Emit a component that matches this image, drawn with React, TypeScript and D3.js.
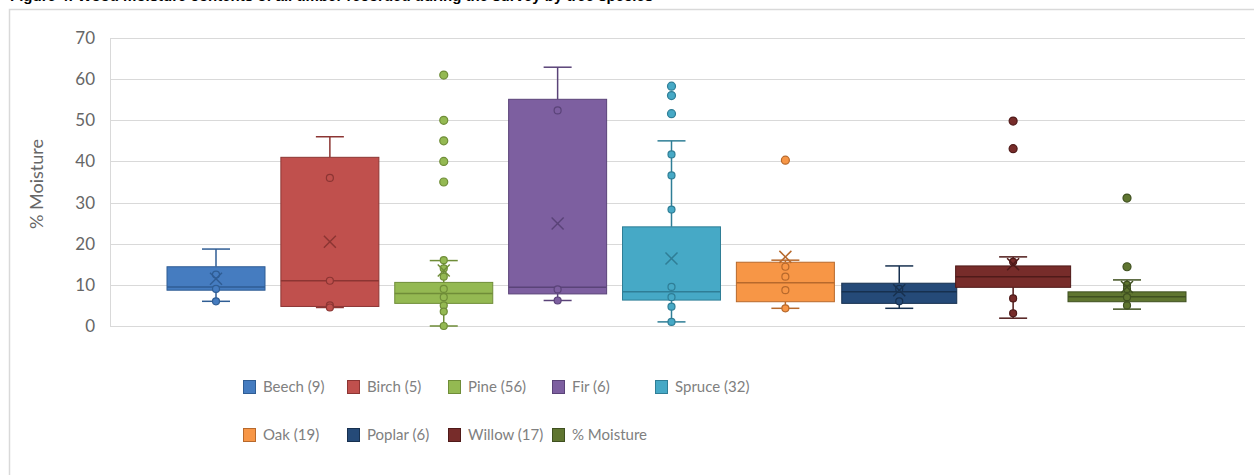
import React from "react";
import * as d3 from "d3";

const series = ["Beech (9)", "Birch (5)", "Pine (56)", "Fir (6)", "Spruce (32)", "Oak (19)", "Poplar (6)", "Willow (17)", "% Moisture"];
const mins = [6, 4.5, 0, 6.2, 1, 4.3, 4.3, 1.9, 4.1];
const q1s = [8.7, 4.75, 5.5, 7.8, 6.3, 5.9, 5.5, 9.4, 5.9];
const medians = [9.5, 11, 7.9, 9.4, 8.3, 10.5, 8.3, 12, 7.1];
const q3s = [14.4, 41, 10.6, 55.1, 24.1, 15.5, 10.4, 14.6, 8.3];
const maxs = [18.7, 46, 15.9, 62.9, 45, 16, 14.6, 16.8, 11.2];
const means = [11.5, 20.5, 13.5, 24.9, 16.4, 16.8, 8.7, 15, 9.5];
const innerPoints = [
  [12.5, 9, 6],
  [36, 11, 5, 4.5],
  [16, 14, 12, 9, 7, 5, 3.5, 0],
  [52.4, 8.9, 6.2],
  [41.7, 36.6, 28.3, 9.5, 7, 4.7, 1],
  [14.4, 12, 8.7, 4.3],
  [9, 6],
  [15.6, 6.7, 3.1],
  [10, 9, 7, 5],
];
const outliers = [[], [], [61, 50, 45, 40, 35], [], [58.3, 56, 51.6], [40.3], [], [49.8, 43.1], [31.1, 14.4]];
const yTicks = [0, 10, 20, 30, 40, 50, 60, 70];

const fills = ["#457cc0", "#c0504d", "#94b952", "#7d5fa0", "#46a9c6", "#f79646", "#254a78", "#772c2a", "#5f7530"];
const strokes = ["#2f5d94", "#8c3533", "#6f8d38", "#5a4378", "#2f7e96", "#b7692c", "#17304f", "#4f1a19", "#3f5020"];
const boxWidths = [98, 98, 98, 98, 98, 98, 115, 115, 118];

export default function App() {
  const y = d3.scaleLinear().domain([0, 70]).range([326, 38]);
  const x = d3.scalePoint<string>().domain(series).range([216, 1127]);
  const font = "Lato, 'Open Sans', sans-serif";
  const cap = 14;

  const legendCols = [243, 347, 448, 552, 655];
  const legendRows = [387, 435];

  return (
    <div style={{ position: "fixed", left: 0, top: 0 }}>
      <svg width={1254} height={475} style={{ display: "block", background: "#fff" }}>
        <text x={10} y={1} fontFamily="'Liberation Sans', Arial, sans-serif" fontWeight="bold" fontSize={15} fill="#000">
          Figure 4: Wood moisture contents of all timber recorded during the survey by tree species
        </text>
        <rect x={9.5} y={9.5} width={1300} height={500} fill="#fff" stroke="#d9d9d9" strokeWidth={1.5} />

        {yTicks.map((t) => (
          <g key={t}>
            <line x1={110} x2={1245} y1={Math.round(y(t)) + 0.5} y2={Math.round(y(t)) + 0.5} stroke="#d9d9d9" strokeWidth={1} />
            <text x={95} y={y(t)} dy="0.35em" textAnchor="end" fontFamily={font} fontSize={17} fill="#666">
              {t}
            </text>
          </g>
        ))}
        <line x1={110.5} x2={110.5} y1={y(70)} y2={y(0)} stroke="#d9d9d9" />
        <text
          transform={`translate(43,${(y(0) + y(70)) / 2 + 2}) rotate(-90)`}
          textAnchor="middle"
          fontFamily={font}
          fontSize={18}
          fill="#666"
        >
          % Moisture
        </text>

        {series.map((s, i) => {
          const cx = x(s) as number;
          const w = boxWidths[i];
          const col = fills[i];
          const dk = strokes[i];
          return (
            <g key={s}>
              <line x1={cx} x2={cx} y1={y(q3s[i])} y2={y(maxs[i])} stroke={dk} strokeWidth={1.5} />
              <line x1={cx} x2={cx} y1={y(q1s[i])} y2={y(mins[i])} stroke={dk} strokeWidth={1.5} />
              <line x1={cx - cap} x2={cx + cap} y1={y(maxs[i])} y2={y(maxs[i])} stroke={dk} strokeWidth={1.5} />
              <line x1={cx - cap} x2={cx + cap} y1={y(mins[i])} y2={y(mins[i])} stroke={dk} strokeWidth={1.5} />
              <rect
                x={cx - w / 2}
                y={y(q3s[i])}
                width={w}
                height={y(q1s[i]) - y(q3s[i])}
                fill={col}
                stroke={dk}
                strokeWidth={1}
              />
              <line x1={cx - w / 2} x2={cx + w / 2} y1={y(medians[i])} y2={y(medians[i])} stroke={dk} strokeWidth={1.5} />
              {innerPoints[i].map((p, j) => (
                <circle key={"p" + j} cx={cx} cy={y(p)} r={3.5} fill={col} stroke={dk} strokeWidth={1.2} />
              ))}
              {outliers[i].map((p, j) => (
                <circle key={"o" + j} cx={cx} cy={y(p)} r={4} fill={col} stroke={dk} strokeWidth={1.2} />
              ))}
              <g stroke={dk} strokeWidth={1.5}>
                <line x1={cx - 6} x2={cx + 6} y1={y(means[i]) - 6} y2={y(means[i]) + 6} />
                <line x1={cx - 6} x2={cx + 6} y1={y(means[i]) + 6} y2={y(means[i]) - 6} />
              </g>
            </g>
          );
        })}

        {series.map((s, i) => {
          const lx = legendCols[i % 5];
          const ly = legendRows[Math.floor(i / 5)];
          return (
            <g key={"lg" + s}>
              <rect x={lx + 0.5} y={ly - 6.5} width={12} height={13} fill={fills[i]} stroke={strokes[i]} strokeWidth={1} />
              <text x={lx + 20} y={ly} dy="0.35em" fontFamily={font} fontSize={15} fill="#808080">
                {s}
              </text>
            </g>
          );
        })}
      </svg>
    </div>
  );
}
